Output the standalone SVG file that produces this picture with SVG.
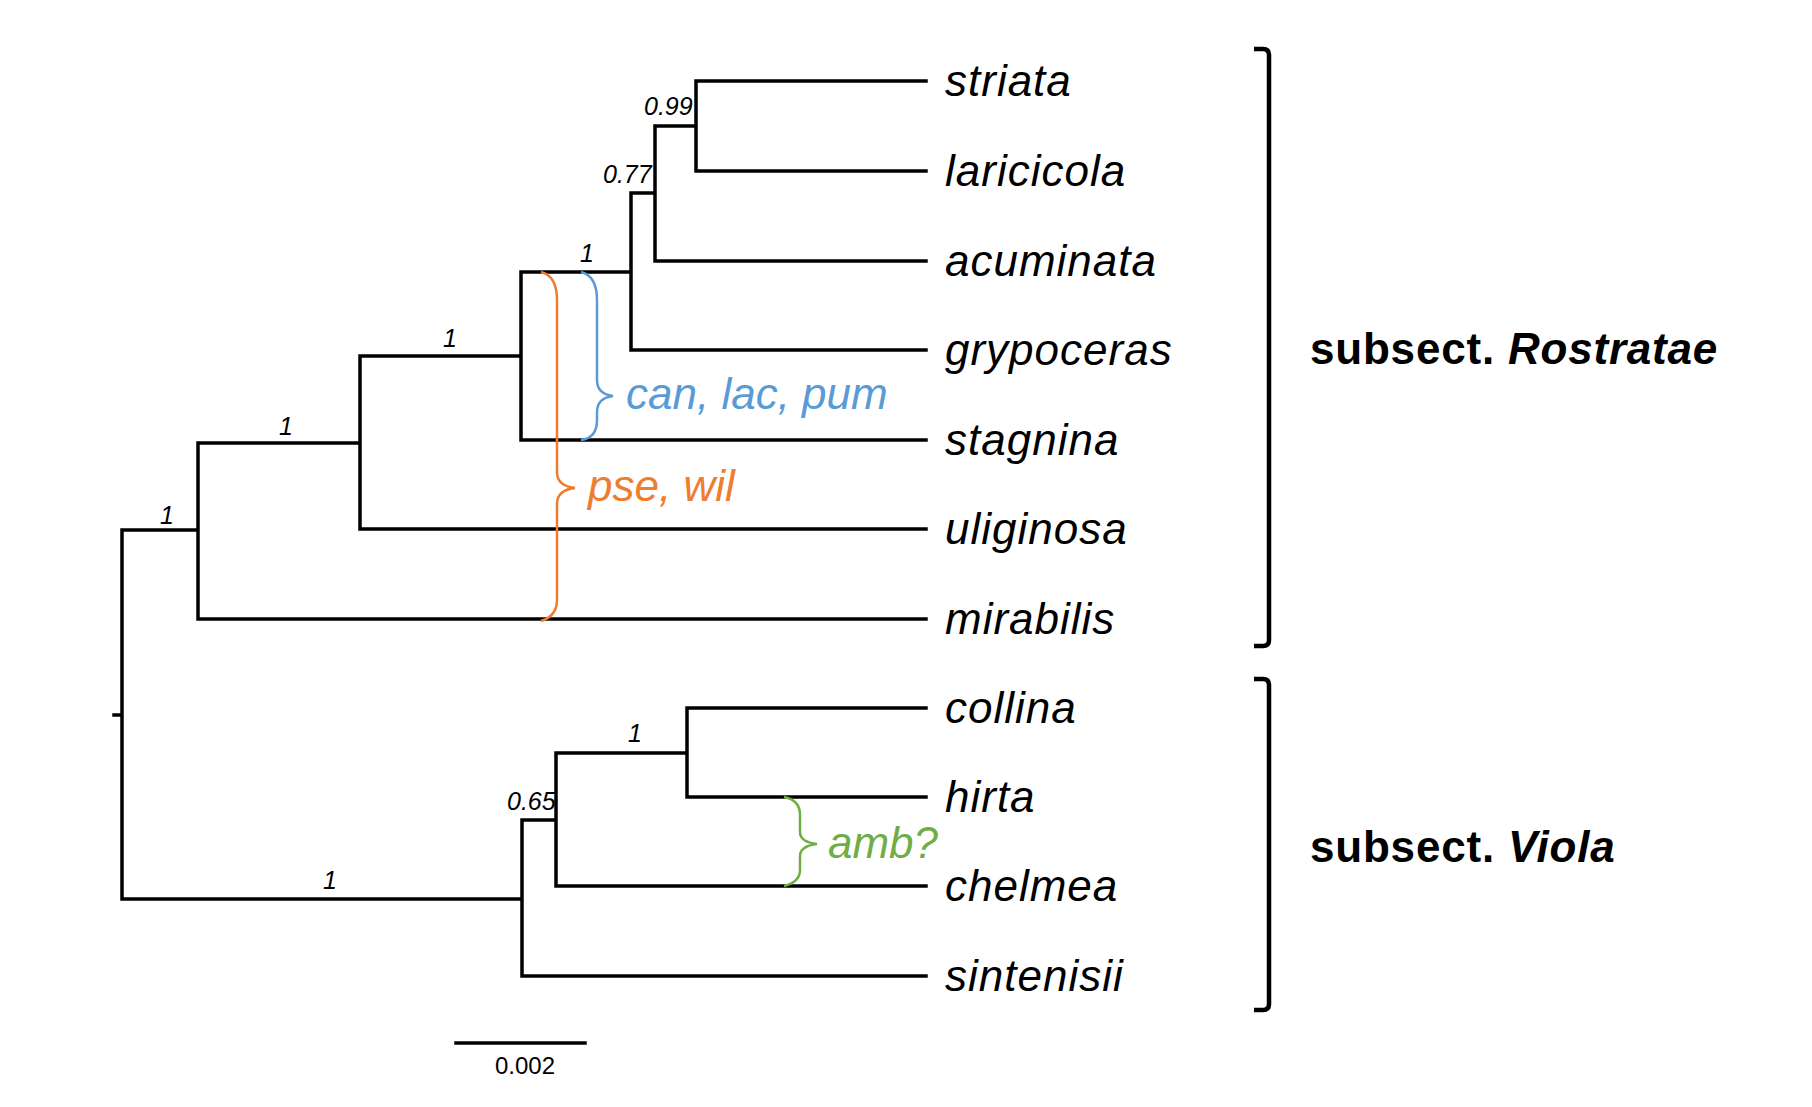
<svg xmlns="http://www.w3.org/2000/svg" width="1812" height="1107" viewBox="0 0 1812 1107">
<style>
.br{fill:none;stroke:#000;stroke-width:3.5;stroke-linecap:square}
.bk{fill:none;stroke:#000;stroke-width:4.5}
.tx{font-family:"Liberation Sans",Arial,sans-serif;font-style:italic;font-size:44px;fill:#000;letter-spacing:1px}
.sp{font-family:"Liberation Sans",Arial,sans-serif;font-style:italic;font-size:25px;fill:#000}
.grp{font-family:"Liberation Sans",Arial,sans-serif;font-weight:bold;font-size:44px;fill:#000;letter-spacing:0.8px}
.cl{font-family:"Liberation Sans",Arial,sans-serif;font-style:italic;font-size:44px}
.brace{fill:none;stroke-width:2.5}
</style>
<rect width="1812" height="1107" fill="#fff"/>
<g id="connectors">
<path class="br" d="M696 81H926M696 171H926M696 81V171M655 126H696M655 126V261H926M631 193H655M631 193V350H926M521 272H631M521 272V440H926M360 356H521M360 356V529H926M198 443H360M198 443V619H926M122 530H198M122 530V899M114 715H122M122 899H522M522 820V976H926M522 820H556M556 753V886H926M556 753H687M687 708V797H926M687 708H926"/>
<path class="br" d="M456 1043H585"/>
</g>
<g id="brackets">
<path class="bk" d="M1254 49H1263Q1269 49 1269 55V640Q1269 646 1263 646H1254"/>
<path class="bk" d="M1254 679H1263Q1269 679 1269 685V1004Q1269 1010 1263 1010H1254"/>
</g>
<g id="braces">
<path class="brace" stroke="#5b9bd5" d="M581 272Q597 276 597 300V380Q597 394 613 396Q597 398 597 412V420Q597 438 581 440"/>
<path class="brace" stroke="#ed7d31" d="M541 272Q557 276 557 300V472Q557 486 575 488Q557 490 557 504V600Q557 616 541 621"/>
<path class="brace" stroke="#70ad47" d="M784 797Q800 800 800 815V832Q800 842 817 844Q800 846 800 856V870Q800 882 784 886"/>
</g>
<g id="tips">
<text class="tx" x="945" y="96">striata</text>
<text class="tx" x="945" y="186">laricicola</text>
<text class="tx" x="945" y="276">acuminata</text>
<text class="tx" x="945" y="365">grypoceras</text>
<text class="tx" x="945" y="455">stagnina</text>
<text class="tx" x="945" y="544">uliginosa</text>
<text class="tx" x="945" y="634">mirabilis</text>
<text class="tx" x="945" y="723">collina</text>
<text class="tx" x="945" y="812">hirta</text>
<text class="tx" x="945" y="901">chelmea</text>
<text class="tx" x="945" y="991">sintenisii</text>
</g>
<g id="supports">
<text class="sp" x="644" y="115">0.99</text>
<text class="sp" x="603" y="183">0.77</text>
<text class="sp" x="580" y="262">1</text>
<text class="sp" x="443" y="347">1</text>
<text class="sp" x="279" y="435">1</text>
<text class="sp" x="160" y="524">1</text>
<text class="sp" x="628" y="742">1</text>
<text class="sp" x="507" y="810">0.65</text>
<text class="sp" x="323" y="889">1</text>
<text x="525" y="1074" text-anchor="middle" font-family="Liberation Sans, Arial, sans-serif" font-size="24">0.002</text>
</g>
<g id="annotations">
<text class="cl" fill="#5b9bd5" x="626" y="409">can, lac, pum</text>
<text class="cl" fill="#ed7d31" x="588" y="501">pse, wil</text>
<text class="cl" fill="#70ad47" x="828" y="858">amb?</text>
</g>
<g id="groups">
<text class="grp" x="1310" y="364">subsect. <tspan font-style="italic">Rostratae</tspan></text>
<text class="grp" x="1310" y="862">subsect. <tspan font-style="italic">Viola</tspan></text>
</g>
</svg>
